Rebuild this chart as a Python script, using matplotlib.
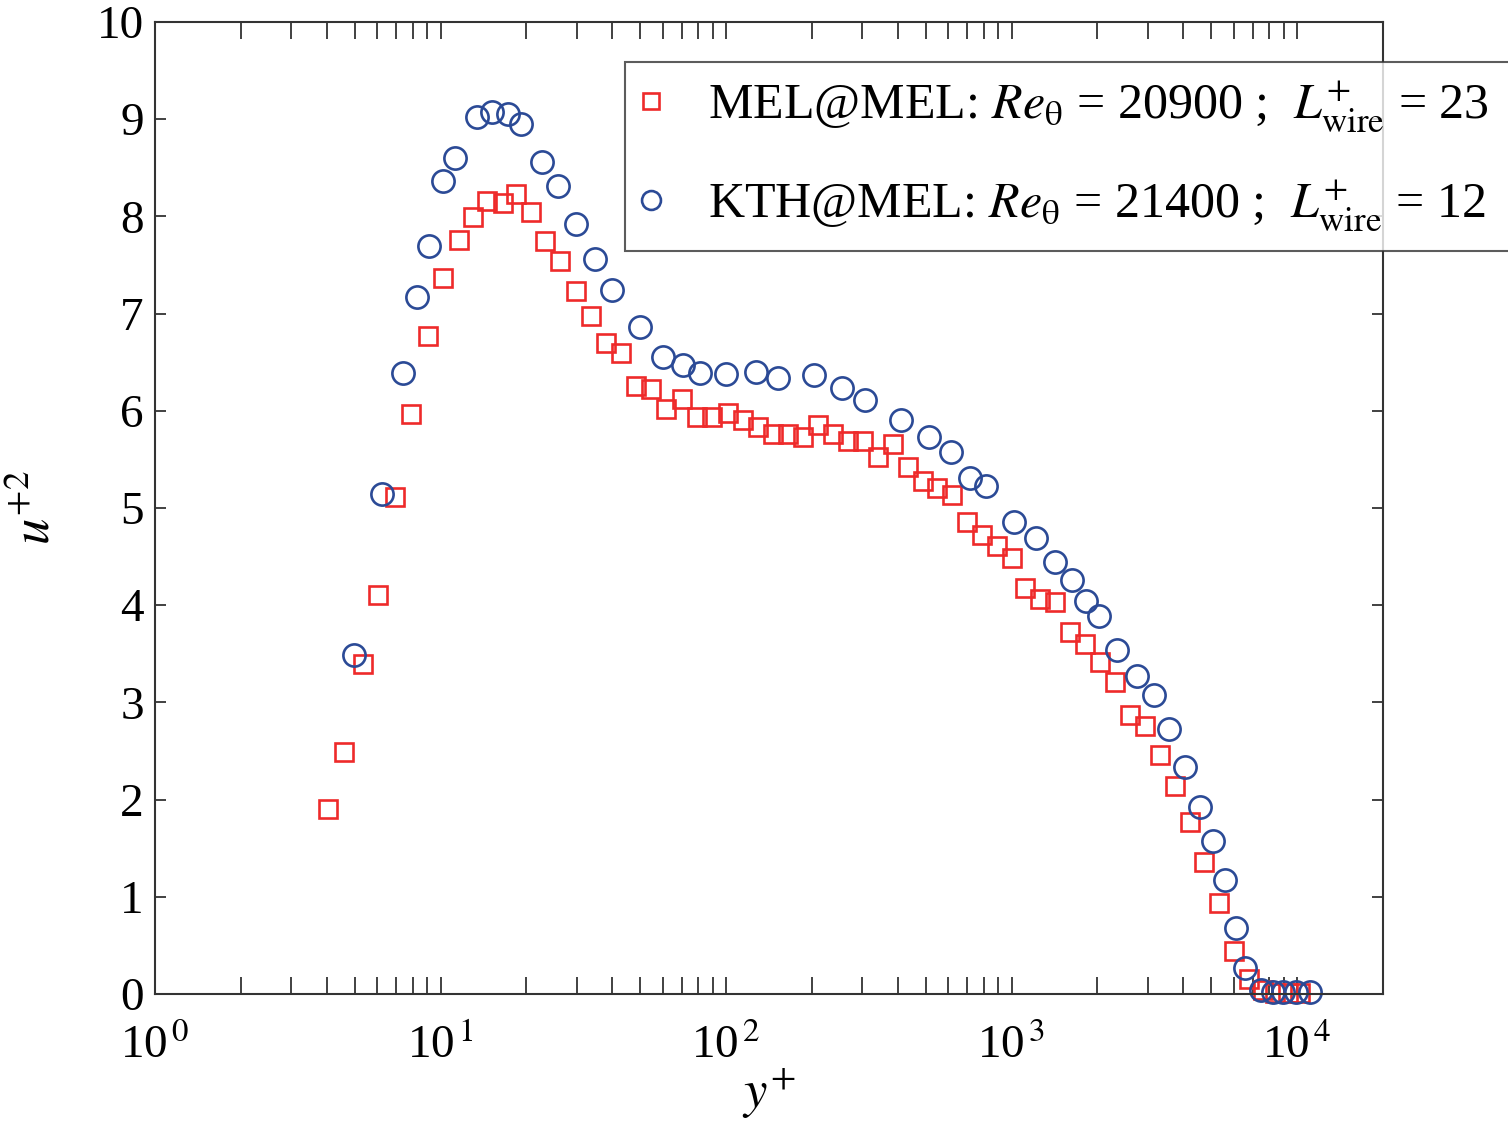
import matplotlib
matplotlib.use("Agg")
import matplotlib.pyplot as plt
import numpy as np
from matplotlib.ticker import FixedLocator, LogLocator, NullFormatter

plt.rcParams['font.family'] = ['Liberation Serif', 'DejaVu Serif']
plt.rcParams['mathtext.fontset'] = 'stix'

# MEL@MEL (red squares)
mel_y = [4.03, 4.58, 5.34, 6.03, 6.90, 7.85, 9.01, 10.2, 11.6, 13.0, 14.5, 16.5, 18.4,
         20.7, 23.3, 26.3, 29.7, 33.7, 38.0, 43.0, 48.5, 54.7, 61.7, 70.2, 79.3, 89.4,
         101.7, 114.6, 129.4, 146, 165, 186, 210, 237, 267, 301, 340, 384, 433, 488,
         547, 617, 696, 785, 887, 1001, 1119, 1262, 1425, 1607, 1815, 2047, 2311,
         2608, 2943, 3320, 3744, 4226, 4730, 5336, 6024, 6792, 7603, 8375, 9307, 10240]
mel_u = [1.90, 2.49, 3.40, 4.10, 5.11, 5.97, 6.77, 7.37, 7.76, 7.99, 8.16, 8.14, 8.23,
         8.05, 7.75, 7.54, 7.23, 6.98, 6.70, 6.59, 6.26, 6.22, 6.02, 6.12, 5.94, 5.94,
         5.98, 5.91, 5.83, 5.76, 5.76, 5.73, 5.85, 5.76, 5.69, 5.69, 5.52, 5.66, 5.42,
         5.28, 5.21, 5.13, 4.86, 4.72, 4.61, 4.49, 4.18, 4.06, 4.03, 3.72, 3.60, 3.42,
         3.21, 2.87, 2.76, 2.46, 2.14, 1.77, 1.36, 0.94, 0.44, 0.15, 0.04, 0.01, 0.01, 0.01]

# KTH@MEL (blue circles)
kth_y = [4.96, 6.22, 7.36, 8.24, 9.08, 10.2, 11.2, 13.4, 15.2, 17.3, 19.2, 22.7, 25.7,
         29.9, 34.8, 40.0, 50.0, 60.2, 70.7, 81.2, 100, 127, 152, 203, 255, 306, 409,
         513, 612, 713, 811, 1016, 1214, 1425, 1622, 1829, 2031, 2349, 2760, 3164,
         3567, 4058, 4577, 5085, 5599, 6119, 6582, 7480, 8245, 8930, 9930, 11100]
kth_u = [3.49, 5.14, 6.39, 7.17, 7.70, 8.36, 8.60, 9.02, 9.07, 9.05, 8.95, 8.56, 8.31,
         7.92, 7.56, 7.24, 6.86, 6.55, 6.47, 6.39, 6.38, 6.40, 6.34, 6.37, 6.23, 6.11,
         5.91, 5.73, 5.58, 5.31, 5.23, 4.86, 4.69, 4.44, 4.26, 4.04, 3.89, 3.54, 3.27,
         3.08, 2.73, 2.34, 1.92, 1.57, 1.17, 0.68, 0.27, 0.04, 0.02, 0.02, 0.02, 0.02]

mel_label = r'MEL@MEL: $Re_{\mathrm{\theta}}$ = 20900 ;  $L^{+}_{\mathrm{wire}}$ = 23'
kth_label = r'KTH@MEL: $Re_{\mathrm{\theta}}$ = 21400 ;  $L^{+}_{\mathrm{wire}}$ = 12'

red = '#ee2a2a'
blue = '#2b4a96'
dark = '#333333'

fig = plt.figure(figsize=(15.08, 11.22), dpi=100)
ax = fig.add_axes([0.1028, 0.1141, 0.8143, 0.8663])

ax.plot(mel_y, mel_u, linestyle='none', marker='s', markersize=13, markerfacecolor='none',
        markeredgecolor=red, markeredgewidth=1.9, clip_on=False, label=mel_label)
ax.plot(kth_y, kth_u, linestyle='none', marker='o', markersize=16, markerfacecolor='none',
        markeredgecolor=blue, markeredgewidth=1.9, clip_on=False, label=kth_label)

ax.set_xscale('log')
ax.set_xlim(1, 2e4)
ax.set_ylim(0, 10)
ax.set_yticks(range(0, 11))
ax.xaxis.set_major_locator(FixedLocator([1, 10, 100, 1000, 10000]))
ax.set_xticklabels([r'10$^{\,%d}$' % k for k in range(5)])
ax.xaxis.set_minor_locator(LogLocator(base=10, subs=np.arange(2, 10)))
ax.xaxis.set_minor_formatter(NullFormatter())

for s in ax.spines.values():
    s.set_linewidth(1.5)
    s.set_color(dark)

ax.tick_params(axis='x', which='both', direction='in', top=True, length=12, width=1.3,
               color=dark, labelsize=34, pad=22)
ax.tick_params(axis='y', which='major', direction='in', right=True, length=8, width=1.3,
               color=dark, labelsize=34, pad=8)

ax.set_xlabel(r'$y^{+}$', fontsize=38, labelpad=-2)
ax.set_ylabel(r'$u^{+2}$', fontsize=38, labelpad=26)

leg = ax.legend(loc='upper left', bbox_to_anchor=(0.383, 0.959, 0.74, 0.0), mode='expand',
                borderaxespad=0, fontsize=36, frameon=True, fancybox=False,
                borderpad=0.35, handlelength=0.34, handletextpad=0.97, labelspacing=0.9,
                markerscale=0.85)
leg.get_frame().set_edgecolor(dark)
leg.get_frame().set_linewidth(1.5)

fig.savefig('out.png', dpi=100)
